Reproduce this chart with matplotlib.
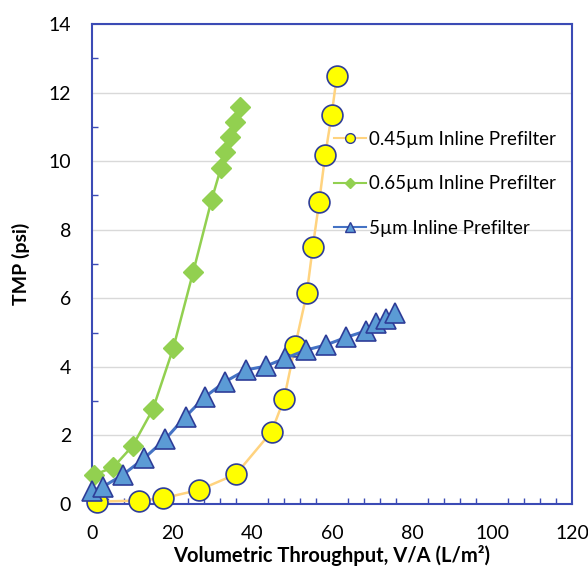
import matplotlib as mpl
mpl.use('Agg')
import matplotlib.pyplot as plt
from matplotlib.ticker import MultipleLocator
import numpy as np

# 0.45um inline prefilter
x045 = [1.2, 11.8, 17.8, 26.8, 36.0, 44.9, 48.0, 50.8, 53.7, 55.2, 56.8, 58.3, 59.9, 61.2]
y045 = [0.07, 0.10, 0.17, 0.41, 0.87, 2.11, 3.06, 4.62, 6.14, 7.50, 8.82, 10.18, 11.34, 12.48]

# 0.65um inline prefilter
x065 = [0.5, 5.3, 10.2, 15.2, 20.3, 25.3, 29.9, 32.2, 33.3, 34.5, 35.8, 37.0]
y065 = [0.85, 1.07, 1.70, 2.76, 4.54, 6.77, 8.87, 9.79, 10.27, 10.71, 11.15, 11.57]

# 5um inline prefilter
x5 = [0.0, 2.7, 7.7, 13.0, 18.3, 23.4, 28.3, 33.3, 38.5, 43.4, 48.3, 53.5, 58.5,
      63.5, 68.5, 71.0, 73.5, 75.8]
y5 = [0.39, 0.50, 0.85, 1.33, 1.89, 2.55, 3.13, 3.57, 3.91, 4.02, 4.25, 4.49, 4.64,
      4.86, 5.05, 5.27, 5.39, 5.56]

labels = ['0.45\u00b5m Inline Prefilter', '0.65\u00b5m Inline Prefilter',
          '5\u00b5m Inline Prefilter']

plt.rcParams['font.family'] = ['Lato', 'DejaVu Sans']

fig = plt.figure(figsize=(5.88, 5.69), dpi=100)
ax = fig.add_axes([92 / 588, 1 - 504 / 569, 480 / 588, 480 / 569])

edge = '#2E3D98'
spine_c = '#3B4BB5'

ax.plot(x045, y045, color='#FFD37F', lw=1.8, marker='o', ms=15,
        mfc='#FFFF00', mec=edge, mew=1.2, zorder=3, clip_on=False)
ax.plot(x065, y065, color='#92D050', lw=1.8, marker='D', ms=10,
        mfc='#92D050', mec='#92D050', zorder=4, clip_on=False)
ax.plot(x5, y5, color='#4472C4', lw=2.2, marker='^', ms=15,
        mfc='#5B9BD5', mec=edge, mew=1.2, zorder=5, clip_on=False)

# legend handles with small markers
hs = []
hs.append(ax.plot([], [], color='#FFD37F', lw=1.5, marker='o', ms=7,
                  mfc='#FFFF00', mec=edge, mew=1)[0])
hs.append(ax.plot([], [], color='#92D050', lw=1.5, marker='D', ms=5,
                  mfc='#92D050', mec='#92D050')[0])
hs.append(ax.plot([], [], color='#4472C4', lw=1.5, marker='^', ms=7,
                  mfc='#5B9BD5', mec=edge, mew=1)[0])
ax.legend(hs, labels, loc='upper left', bbox_to_anchor=(0.505, 0.778),
          frameon=False, fontsize=13.5, handlelength=1.7, handletextpad=0.15,
          labelspacing=1.48, borderaxespad=0, borderpad=0)

ax.set_xlim(0, 120)
ax.set_ylim(0, 14)
ax.xaxis.set_major_locator(MultipleLocator(20))
ax.xaxis.set_minor_locator(MultipleLocator(4))
ax.yaxis.set_major_locator(MultipleLocator(2))
ax.yaxis.set_minor_locator(MultipleLocator(1))
ax.tick_params(which='major', length=0, labelsize=14)
ax.tick_params(axis='y', which='major', pad=15)
ax.tick_params(axis='x', which='major', pad=15)
ax.tick_params(axis='x', which='minor', direction='in', length=4,
               color=spine_c, width=1)
ax.tick_params(axis='y', which='minor', direction='in', length=4,
               color=spine_c, width=1)

ax.grid(axis='y', which='major', color='#D9D9D9', lw=1)
ax.set_axisbelow(True)
for s in ax.spines.values():
    s.set_color(spine_c)
    s.set_linewidth(1.5)

ax.set_xlabel('Volumetric Throughput, V/A (L/m\u00b2)', fontsize=14.5,
              fontweight='bold', labelpad=2)
ax.set_ylabel('TMP (psi)', fontsize=14, fontweight='bold', labelpad=13)

fig.savefig('out.png', dpi=100)
